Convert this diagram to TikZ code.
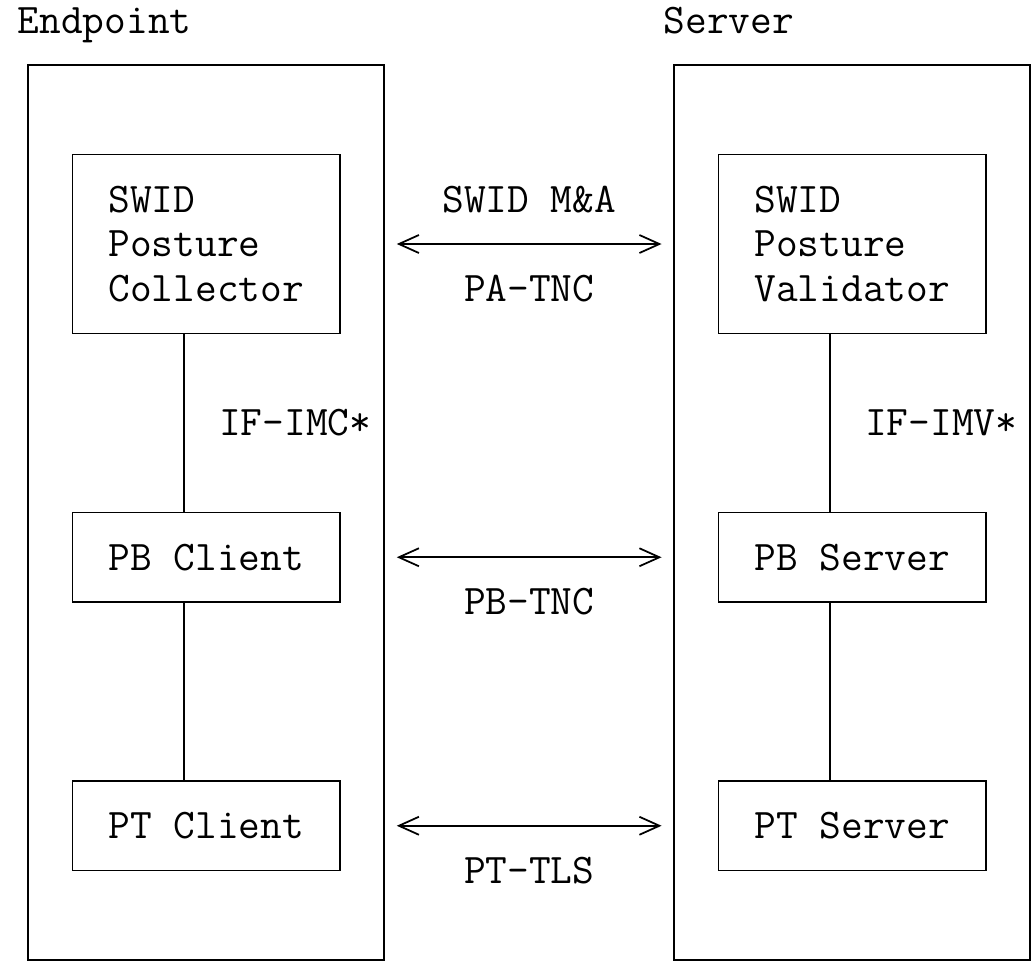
\documentclass[tikz,border=0pt]{standalone}
\usepackage{fontspec}
\usepackage{tikz}
\usetikzlibrary{arrows.meta,positioning}
\newcommand{\bothtips}{{Straight Barb[length=0.4cm,width=0.36cm]}-{Straight Barb[length=0.4cm,width=0.36cm]}}
\newcommand{\monofont}{\ttfamily\fontsize{24}{25.47}\selectfont}

\begin{document}
\begin{tikzpicture}[x=0.02cm,y=-0.02cm,line width=1pt,
	outerbox/.style={draw,inner sep=0pt,outer sep=0pt,minimum width=7.126cm,minimum height=17.9cm},
	innerbox/.style={draw,inner sep=0pt,outer sep=0pt,minimum width=5.346cm,align=left,font=\monofont},
	lbl/.style={inner sep=0pt,font=\monofont,text height=14.7pt,text depth=0pt},
	]
	\useasboundingbox (0,0) rectangle (1033,970);
	\node[outerbox] (ep) at (206.15,512.5) {};
	\node[outerbox] (sv) at (852.15,512.5) {};
	\node[lbl,anchor=west] (eptitle) at (16.9,20.25) {Endpoint};
	\node[lbl,anchor=west] (svtitle) at (662.9,20.25) {Server};
	\node[innerbox,minimum height=3.58cm] (spc) at (206.15,244) {SWID\\Posture\\Collector};
	\node[innerbox,minimum height=1.79cm] (pbc) at (206.15,557.25) {PB Client};
	\node[innerbox,minimum height=1.79cm] (ptc) at (206.15,825.75) {PT Client};
	\node[innerbox,minimum height=3.58cm] (spv) at (852.15,244) {SWID\\Posture\\Validator};
	\node[innerbox,minimum height=1.79cm] (pbs) at (852.15,557.25) {PB Server};
	\node[innerbox,minimum height=1.79cm] (pts) at (852.15,825.75) {PT Server};
	\draw ([xshift=-0.4454cm]spc.south) -- ([xshift=-0.4454cm]pbc.north);
	\draw ([xshift=-0.4454cm]pbc.south) -- ([xshift=-0.4454cm]ptc.north);
	\draw ([xshift=-0.4454cm]spv.south) -- ([xshift=-0.4454cm]pbs.north);
	\draw ([xshift=-0.4454cm]pbs.south) -- ([xshift=-0.4454cm]pts.north);
	\node[lbl] (ifimc) at (295.2,423) {IF-IMC*};
	\node[lbl] (ifimv) at (941.2,423) {IF-IMV*};
	\draw[\bothtips,shorten <=0.25cm,shorten >=0.25cm] (ep.east |- spc) -- (sv.west |- spv)
		node[lbl,midway,yshift=0.895cm] (swidma) {SWID M\&A}
		node[lbl,midway,yshift=-0.895cm] (patnc) {PA-TNC};
	\draw[\bothtips,shorten <=0.25cm,shorten >=0.25cm] (ep.east |- pbc) -- (sv.west |- pbs)
		node[lbl,midway,yshift=-0.895cm] (pbtnc) {PB-TNC};
	\draw[\bothtips,shorten <=0.25cm,shorten >=0.25cm] (ep.east |- ptc) -- (sv.west |- pts)
		node[lbl,midway,yshift=-0.895cm] (pttls) {PT-TLS};
\end{tikzpicture}
\end{document}
